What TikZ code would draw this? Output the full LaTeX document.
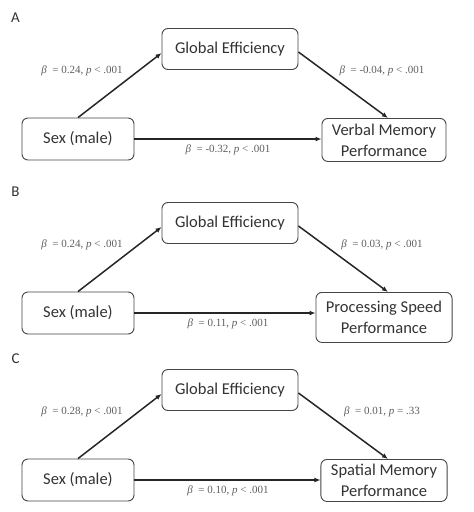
\documentclass[tikz,border=0pt]{standalone}
\usepackage{fontspec}
\setmainfont{Carlito}
\newfontfamily\statfont{Liberation Serif}
\usetikzlibrary{arrows.meta,positioning,calc}
\definecolor{boxline}{HTML}{454545}
\definecolor{textgray}{HTML}{333333}
\definecolor{arrowgray}{HTML}{262626}
\definecolor{statgray}{HTML}{5E5E5E}
\newcommand{\betap}[2]{{\itshape β}~ = #1, {\itshape p} #2}

\begin{document}
\begin{tikzpicture}[x=1pt,y=-1pt,
  box/.style={draw=boxline,line width=0.9pt,rounded corners=6pt,text=textgray,
    font=\fontsize{16.5}{21}\selectfont,align=center,inner xsep=10pt},
  arr/.style={-{Latex[length=6pt,width=5pt]},line width=1.5pt,draw=arrowgray},
  stat/.style={text=statgray,font=\statfont\fontsize{11}{13}\selectfont,inner sep=0pt}]
\useasboundingbox (0,0) rectangle (474,512);
\foreach \off/\tag/\outtxt/\h/\ca/\cb/\cc in {
  0/A/{Verbal Memory\\Performance}/43/{\betap{0.24}{< .001}}/{\betap{-0.04}{< .001}}/{\betap{-0.32}{< .001}},
  174/B/{Processing Speed\\Performance}/50/{\betap{0.24}{< .001}}/{\betap{0.03}{< .001}}/{\betap{0.11}{< .001}},
  341/C/{Spatial Memory\\Performance}/42/{\betap{0.28}{< .001}}/{\betap{0.01}{= .33}}/{\betap{0.10}{< .001}}}
  {\node[font=\fontsize{15}{18}\selectfont,text=textgray] (tag\tag) at (15.5,18+\off) {\tag};
   \node[box,minimum width=136pt,minimum height=41pt] (ge\tag) at (230,49+\off) {Global Efficiency};
   \node[box,minimum width=112pt,minimum height=42pt] (sex\tag) at (78,139+\off) {Sex (male)};
   \node[box,minimum height=\h pt,anchor=north] (out\tag) at (384,118+\off) {\outtxt};
   \draw[arr] (sex\tag.north) -- ([yshift=-4pt]ge\tag.west);
   \draw[arr] ([yshift=-3pt]ge\tag.east) -- ([xshift=4pt]out\tag.north);
   \draw[arr] (sex\tag.east) -- (sex\tag.east -| out\tag.west);
   \node[stat] (la\tag) at (82,71+\off) {\ca};
   \node[stat] (lb\tag) at (382,71+\off) {\cb};
   \node[stat] (lc\tag) at (228,150+\off) {\cc};}
\end{tikzpicture}
\end{document}
